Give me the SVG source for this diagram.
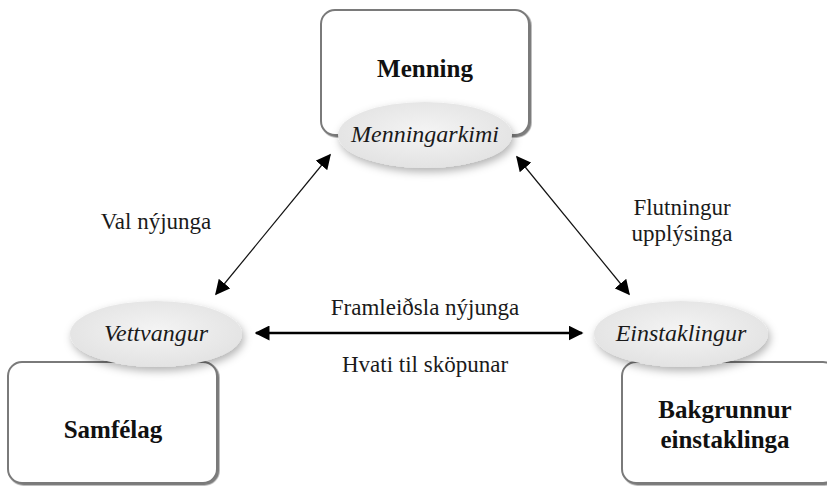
<svg xmlns="http://www.w3.org/2000/svg" width="827" height="486" viewBox="0 0 827 486">
<defs>
<filter id="boxShadow" x="-5%" y="-5%" width="115%" height="115%">
<feDropShadow dx="1.5" dy="1.5" stdDeviation="0.7" flood-color="#444" flood-opacity="0.7"/>
</filter>
<filter id="ellShadow" x="-20%" y="-30%" width="140%" height="170%">
<feDropShadow dx="2" dy="4" stdDeviation="4" flood-color="#000" flood-opacity="0.3"/>
</filter>
<radialGradient id="ellFill" cx="50%" cy="45%" r="55%">
<stop offset="0" stop-color="#f4f4f4"/>
<stop offset="1" stop-color="#e3e3e3"/>
</radialGradient>
<marker id="ah" viewBox="0 0 10 10" refX="9" refY="5" markerWidth="15" markerHeight="15" markerUnits="userSpaceOnUse" orient="auto-start-reverse">
<path d="M0,0 L10,5 L0,10 z" fill="#000"/>
</marker>
<marker id="ahB" viewBox="0 0 10 10" refX="9" refY="5" markerWidth="6" markerHeight="6" orient="auto-start-reverse">
<path d="M0,0 L10,5 L0,10 z" fill="#000"/>
</marker>
</defs>
<rect width="827" height="486" fill="#fff"/>

<g id="node-menning" font-family="Liberation Serif" text-anchor="middle">
<rect x="321" y="10" width="208" height="125" rx="14" fill="#fff" stroke="#7a7a7a" stroke-width="2" filter="url(#boxShadow)"/>
<text x="425" y="77" font-family="Liberation Serif" font-weight="bold" font-size="25" fill="#111">Menning</text>
<ellipse cx="425" cy="135" rx="87" ry="33" fill="url(#ellFill)" filter="url(#ellShadow)"/>
<text x="425" y="142" font-family="Liberation Serif" font-style="italic" font-size="24" fill="#1a1a1a">Menningarkimi</text>
</g>

<g id="node-samfelag" font-family="Liberation Serif" text-anchor="middle">
<rect x="8" y="362" width="209" height="121" rx="14" fill="#fff" stroke="#7a7a7a" stroke-width="2" filter="url(#boxShadow)"/>
<text x="113" y="438" font-family="Liberation Serif" font-weight="bold" font-size="25" fill="#111">Samfélag</text>
<ellipse cx="156" cy="334" rx="86" ry="33" fill="url(#ellFill)" filter="url(#ellShadow)"/>
<text x="156" y="341" font-family="Liberation Serif" font-style="italic" font-size="24" fill="#1a1a1a">Vettvangur</text>
</g>

<g id="node-bakgrunnur" font-family="Liberation Serif" text-anchor="middle">
<rect x="622" y="362" width="215" height="121" rx="14" fill="#fff" stroke="#7a7a7a" stroke-width="2" filter="url(#boxShadow)"/>
<text x="725" y="418" font-family="Liberation Serif" font-weight="bold" font-size="25" fill="#111">Bakgrunnur</text>
<text x="725" y="448" font-family="Liberation Serif" font-weight="bold" font-size="25" fill="#111">einstaklinga</text>
<ellipse cx="681" cy="334" rx="87" ry="33" fill="url(#ellFill)" filter="url(#ellShadow)"/>
<text x="681" y="341" font-family="Liberation Serif" font-style="italic" font-size="24" fill="#1a1a1a">Einstaklingur</text>
</g>

<g id="connectors" fill="none">
<line x1="216" y1="294" x2="330" y2="155" stroke="#111" stroke-width="1.2" marker-start="url(#ah)" marker-end="url(#ah)"/>
<line x1="517" y1="157" x2="629" y2="294" stroke="#111" stroke-width="1.2" marker-start="url(#ah)" marker-end="url(#ah)"/>
<line x1="256" y1="333" x2="582" y2="333" stroke="#000" stroke-width="2.5" marker-start="url(#ahB)" marker-end="url(#ahB)"/>
</g>

<g id="labels" font-family="Liberation Serif" text-anchor="middle" font-size="23" fill="#1a1a1a">
<text x="156" y="229" font-family="Liberation Serif">Val nýjunga</text>
<text x="682" y="215" font-family="Liberation Serif">Flutningur</text>
<text x="682" y="241" font-family="Liberation Serif">upplýsinga</text>
<text x="425" y="315" font-family="Liberation Serif">Framleiðsla nýjunga</text>
<text x="425" y="372" font-family="Liberation Serif">Hvati til sköpunar</text>
</g>
</svg>
